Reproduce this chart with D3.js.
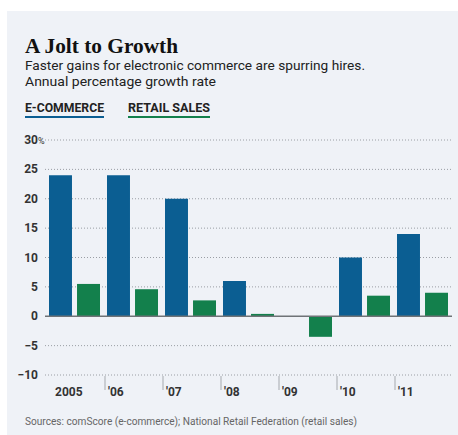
<!DOCTYPE html>
<html>
<head>
<meta charset="utf-8">
<script src="https://cdn.jsdelivr.net/npm/d3@7"></script>
<style>
  body { margin: 0; background: #fff; }
  svg { display: block; }
</style>
</head>
<body>
<div id="chart"></div>
<script>
var years = ["2005", "'06", "'07", "'08", "'09", "'10", "'11"]
var ecommerce = [24, 24, 20, 6, 0, 10, 14]
var retail = [5.5, 4.6, 2.7, 0.4, -3.5, 3.5, 4.0]
var yTicks = [-10, -5, 0, 5, 10, 15, 20, 25, 30]
var seriesNames = ["E-COMMERCE", "RETAIL SALES"]

var W = 458, H = 435
var blue = "#0b5e92", green = "#13804c"

var svg = d3.select("#chart").append("svg")
  .attr("width", W)
  .attr("height", H)

// panel
svg.append("rect")
  .attr("x", 7).attr("y", 11)
  .attr("width", W - 7).attr("height", H - 11)
  .attr("fill", "#eff2f7")

// titles
svg.append("text")
  .attr("x", 25).attr("y", 53)
  .attr("font-family", "Liberation Serif, serif")
  .attr("font-weight", "bold")
  .attr("font-size", 21)
  .attr("fill", "#111")
  .attr("textLength", 153).attr("lengthAdjust", "spacingAndGlyphs")
  .text("A Jolt to Growth")

var sub = [["Faster gains for electronic commerce are spurring hires.", 70, 340],
           ["Annual percentage growth rate", 86, 191]]
sub.forEach(function (s) {
  svg.append("text")
    .attr("x", 25).attr("y", s[1])
    .attr("font-family", "Liberation Sans Narrow, Roboto, sans-serif")
    .attr("font-size", 13)
    .attr("fill", "#222")
    .attr("textLength", s[2]).attr("lengthAdjust", "spacingAndGlyphs")
    .text(s[0])
})

// legend
var legend = [[seriesNames[0], 25, 79, blue], [seriesNames[1], 128, 82, green]]
legend.forEach(function (l) {
  svg.append("text")
    .attr("x", l[1]).attr("y", 112)
    .attr("font-family", "Liberation Sans Narrow, Roboto, sans-serif")
    .attr("font-weight", "bold")
    .attr("font-size", 12)
    .attr("fill", "#222")
    .attr("textLength", l[2]).attr("lengthAdjust", "spacingAndGlyphs")
    .text(l[0])
  svg.append("rect")
    .attr("x", l[1]).attr("y", 116)
    .attr("width", l[2]).attr("height", 2)
    .attr("fill", l[3])
})

// scales
var x = d3.scaleBand().domain(years).range([47, 453]).paddingInner(0)
var xs = d3.scaleBand().domain(["e", "r"]).range([2, 53]).paddingInner(0.18)
var y = d3.scaleLinear().domain([-10, 30]).range([375, 140])

// grid
svg.append("g").selectAll("line")
  .data(yTicks.filter(d => d != 0))
  .join("line")
  .attr("x1", 45).attr("x2", 452)
  .attr("y1", d => y(d)).attr("y2", d => y(d))
  .attr("stroke", "#9a9ea4")
  .attr("stroke-width", 1)
  .attr("stroke-dasharray", "1,2")

svg.append("g").selectAll("text")
  .data(yTicks)
  .join("text")
  .attr("x", 38)
  .attr("y", d => y(d) + 4)
  .attr("text-anchor", "end")
  .attr("font-family", "Liberation Sans Narrow, Roboto, sans-serif")
  .attr("font-weight", "bold")
  .attr("font-size", 12)
  .attr("fill", "#333")
  .text(d => d < 0 ? "\u2212" + Math.abs(d) : d)

svg.append("text")
  .attr("x", 38).attr("y", y(30) + 4)
  .attr("font-family", "Liberation Sans Narrow, Roboto, sans-serif")
  .attr("font-size", 9)
  .attr("fill", "#333")
  .text("%")

// bars
var g = svg.append("g").selectAll("g")
  .data(years)
  .join("g")
  .attr("transform", d => `translate(${x(d)},0)`)

g.append("rect")
  .attr("x", xs("e"))
  .attr("width", xs.bandwidth())
  .attr("y", (d, i) => y(Math.max(0, ecommerce[i])))
  .attr("height", (d, i) => Math.abs(y(ecommerce[i]) - y(0)))
  .attr("fill", blue)

g.append("rect")
  .attr("x", xs("r"))
  .attr("width", xs.bandwidth())
  .attr("y", (d, i) => y(Math.max(0, retail[i])))
  .attr("height", (d, i) => Math.abs(y(retail[i]) - y(0)))
  .attr("fill", green)

// zero line
svg.append("line")
  .attr("x1", 45).attr("x2", 452)
  .attr("y1", y(0)).attr("y2", y(0))
  .attr("stroke", "#6f7377")
  .attr("stroke-width", 1.5)

// x axis ticks and labels
svg.append("g").selectAll("line")
  .data(years.slice(1))
  .join("line")
  .attr("x1", d => x(d)).attr("x2", d => x(d))
  .attr("y1", 376).attr("y2", 390)
  .attr("stroke", "#a5a9ae")
  .attr("stroke-width", 1)

svg.append("g").selectAll("text")
  .data(years)
  .join("text")
  .attr("x", (d, i) => x(d) + (i == 0 ? 8 : 3))
  .attr("y", 396)
  .attr("font-family", "Liberation Sans Narrow, Roboto, sans-serif")
  .attr("font-weight", "bold")
  .attr("font-size", 12)
  .attr("fill", "#333")
  .text(d => d)

svg.append("text")
  .attr("x", 25).attr("y", 425)
  .attr("font-family", "Liberation Sans Narrow, Roboto, sans-serif")
  .attr("font-size", 10)
  .attr("fill", "#666")
  .attr("textLength", 332).attr("lengthAdjust", "spacingAndGlyphs")
  .text("Sources: comScore (e-commerce); National Retail Federation (retail sales)")
</script>
</body>
</html>
